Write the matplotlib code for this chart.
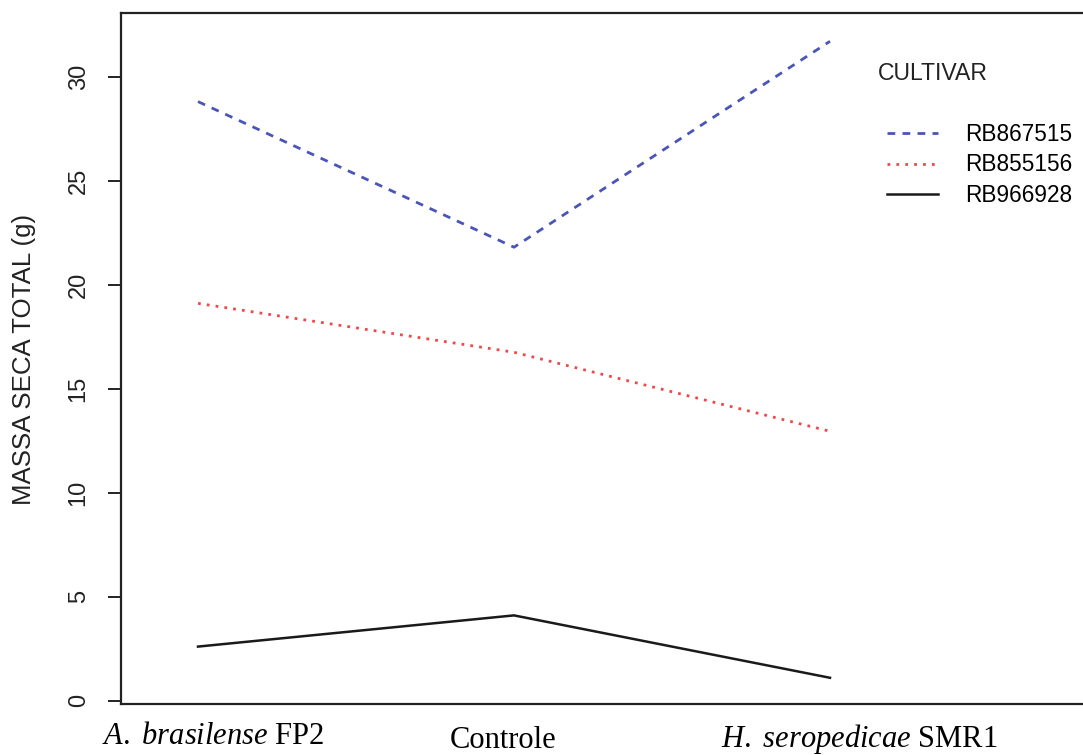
#!/usr/bin/env python3

import matplotlib
matplotlib.use("Agg")
import matplotlib.pyplot as plt

# =========================
# STYLE
# =========================
plt.rcParams.update({
    "font.family": "Liberation Sans",
    "font.size": 16.5,
    "mathtext.fontset": "custom",
    "mathtext.rm": "Liberation Serif",
    "mathtext.it": "Liberation Serif:italic",
})

# =========================
# DATA
# =========================
inoculo = [
    r"$\mathit{A.\ brasilense}$ FP2",
    "Controle",
    r"$\mathit{H.\ seropedicae}$ SMR1",
]
x_pos = [1, 2, 3]

cultivares = ["RB867515", "RB855156", "RB966928"]
rb867515 = [28.8, 21.8, 31.7]
rb855156 = [19.1, 16.75, 12.95]
rb966928 = [2.6, 4.1, 1.1]

y_ticks = [0, 5, 10, 15, 20, 25, 30]

# =========================
# FIGURE
# =========================
W, H = 1083, 755
fig = plt.figure(figsize=(W / 100, H / 100), dpi=100)

# axes box: left spine at 121 px, top 13 px, bottom 704 px, right edge off-image
ax = fig.add_axes([121 / W, (H - 704) / H, 980 / W, (704 - 13) / H])

ax.plot(x_pos, rb867515, color="#4a55b8", linewidth=2.0,
        linestyle=(0, (2.8, 2.6)), label=cultivares[0])
ax.plot(x_pos, rb855156, color="#f04848", linewidth=2.0,
        linestyle=(0, (1.0, 2.2)), label=cultivares[1])
ax.plot(x_pos, rb966928, color="#1a1a1a", linewidth=1.8,
        linestyle="-", label=cultivares[2])

ax.set_xlim(1 - 77 / 316, 1 - 77 / 316 + 980 / 316)
ax.set_ylim(-0.16, 33.06)

ax.set_yticks(y_ticks)
ax.set_yticklabels([str(t) for t in y_ticks])
ax.tick_params(axis="y", length=9.5, width=1.4, pad=13, labelrotation=90,
               labelsize=17, colors="#222222")
for lab in ax.get_yticklabels():
    lab.set_va("center")

ax.set_xticks([])

for sp in ax.spines.values():
    sp.set_linewidth(1.6)
    sp.set_color("#222222")

# x category labels (pasted in the original, slightly offset)
label_dx = [15, -11, 29]
label_dy = [-33, -36.5, -35]
for xp, txt, dx, dy in zip(x_pos, inoculo, label_dx, label_dy):
    ax.annotate(txt, xy=(xp, 0), xycoords=("data", "axes fraction"),
                xytext=(dx * 0.72, dy * 0.72), textcoords="offset points",
                ha="center", va="center", fontsize=22,
                family="Liberation Serif", annotation_clip=False)

# y label
fig.text(24 / W, 1 - 359 / H, "MASSA SECA TOTAL (g)", rotation=90,
         ha="center", va="center", fontsize=18.6, color="#222222")

# legend
fig.text(878 / W, 1 - 73 / H, "CULTIVAR", ha="left", va="center",
         fontsize=16.6, color="#222222")
ax.legend(loc="upper left", bbox_to_anchor=(887 / W, 1 - 123 / H),
          bbox_transform=fig.transFigure, frameon=False, borderpad=0,
          borderaxespad=0, handlelength=2.25, handletextpad=1.2,
          labelspacing=0.33, fontsize=16.3)

plt.savefig("out.png", dpi=100)
